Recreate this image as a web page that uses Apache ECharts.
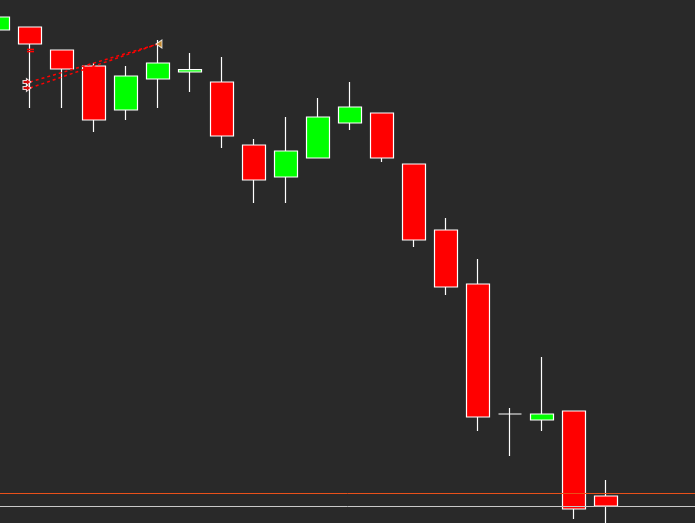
<!DOCTYPE html>
<html>
<head>
<meta charset="utf-8">
<script src="https://cdn.jsdelivr.net/npm/echarts@6/dist/echarts.min.js"></script>
<style>
  html, body { margin: 0; padding: 0; background: #292929; }
  #chart { width: 695px; height: 523px; }
</style>
</head>
<body>
<div id="chart"></div>
<script>
// bar times (last three are empty space on the right)
var times = ['09:00', '09:05', '09:10', '09:15', '09:20', '09:25', '09:30', '09:35',
    '09:40', '09:45', '09:50', '09:55', '10:00', '10:05', '10:10', '10:15',
    '10:20', '10:25', '10:30', '10:35', '10:40', '10:45', '10:50'];

// [open, close, low, high]
var ohlc = [
    [118.50, 119.15, 118.20, 119.50],
    [118.65, 117.80, 114.60, 118.65],
    [117.50, 116.55, 114.60, 117.50],
    [116.70, 114.00, 113.40, 116.85],
    [114.50, 116.20, 114.00, 116.70],
    [116.05, 116.85, 114.60, 118.00],
    [116.40, 116.52, 115.40, 117.35],
    [115.90, 113.20, 112.60, 117.15],
    [112.75, 111.00, 109.85, 113.05],
    [111.15, 112.45, 109.85, 114.15],
    [112.10, 114.15, 112.10, 115.10],
    [113.85, 114.65, 113.50, 115.90],
    [114.35, 112.10, 111.90, 114.35],
    [111.80, 108.00, 107.65, 111.80],
    [108.50, 105.65, 105.25, 109.10],
    [105.80, 99.15, 98.45, 107.05],
    [99.30, 99.30, 97.20, 99.60],
    [99.00, 99.30, 98.45, 102.15],
    [99.45, 94.55, 94.05, 99.45],
    [95.20, 94.70, 93.50, 96.00],
    '-', '-', '-'
];

// trade arrows (entry) and exit triangle
var entries = [['09:05', 115.90], ['09:05', 115.60]];
var exits = [['09:25', 117.80]];
// small pending-order ticks under the first red bar
var orderMarks = [['09:05', 117.53], ['09:05', 117.42]];

var askLevel = 95.33;
var bidLevel = 94.70;

var chart = echarts.init(document.getElementById('chart'));

var option = {
    backgroundColor: '#292929',
    animation: false,
    grid: { left: -18, right: -23, top: 0, bottom: 0, outerBoundsMode: 'none', containLabel: false },
    xAxis: {
        type: 'category',
        data: times,
        boundaryGap: true,
        show: false
    },
    yAxis: {
        type: 'value',
        min: 93.85,
        max: 120,
        show: false,
        splitLine: { show: false }
    },
    series: [
        {
            type: 'candlestick',
            data: ohlc,
            barWidth: 23,
            itemStyle: {
                color: '#00ff00',
                color0: '#ff0000',
                borderColor: '#ffffff',
                borderColor0: '#ffffff',
                borderColorDoji: '#ffffff',
                borderWidth: 1.2
            },
            markLine: {
                silent: true,
                symbol: ['none', 'none'],
                label: { show: false },
                data: [
                    [
                        { coord: [entries[0][0], entries[0][1]] },
                        { coord: [exits[0][0], exits[0][1]] }
                    ],
                    [
                        { coord: [entries[1][0], entries[1][1]] },
                        { coord: [exits[0][0], exits[0][1]] }
                    ],
                    { yAxis: askLevel, lineStyle: { color: '#e8501a', type: 'solid', width: 1 } },
                    { yAxis: bidLevel, lineStyle: { color: '#c8c8c8', type: 'solid', width: 1 } }
                ],
                lineStyle: { color: '#ff0000', type: [3, 3], width: 1.5 }
            }
        },
        {
            type: 'scatter',
            data: entries,
            symbol: 'path://M0,2H3V0L7,3.5L3,7V5H0Z',
            symbolSize: [8, 7],
            symbolOffset: [-3, 0],
            itemStyle: { color: '#ff0000', borderColor: '#ffffff', borderWidth: 1 },
            z: 5
        },
        {
            type: 'scatter',
            data: exits,
            symbol: 'triangle',
            symbolSize: [8, 6],
            symbolRotate: 90,
            symbolOffset: [1, 0],
            itemStyle: { color: '#e8a030', borderColor: '#ffffff', borderWidth: 1 },
            z: 5
        },
        {
            type: 'scatter',
            data: orderMarks,
            symbol: 'rect',
            symbolSize: [7, 1.5],
            symbolOffset: [0.5, 0],
            itemStyle: { color: '#ff0000', opacity: 1 },
            z: 6
        }
    ]
};

chart.setOption(option);
</script>
</body>
</html>
